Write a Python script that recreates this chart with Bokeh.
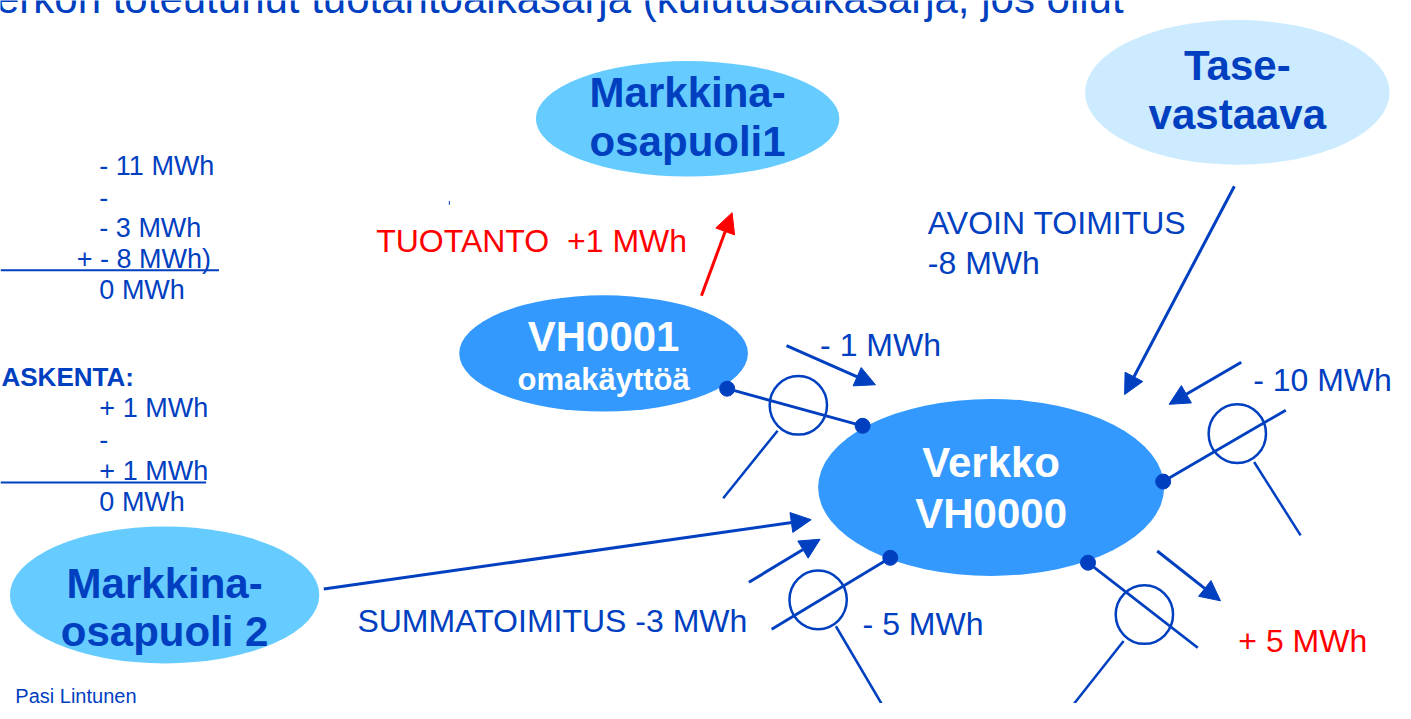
from bokeh.plotting import figure
from bokeh.models import Range1d, Arrow, NormalHead
from bokeh.core.properties import value
from bokeh.embed import file_html
from bokeh.resources import INLINE

# ---------------- data (texts / values) ----------------
title_text = "Verkon toteutunut tuotantoaikasarja (kulutusaikasarja, jos ollut"
node_line1 = ["Markkina-", "Tase-", "VH0001", "Verkko", "Markkina-"]
node_line2 = ["osapuoli1", "vastaava", "omakäyttöä", "VH0000", "osapuoli 2"]
flow_names = ["TUOTANTO", "AVOIN TOIMITUS", "", "", "SUMMATOIMITUS", "", ""]
flow_mwh = [1, -8, -1, -10, -3, -5, 5]
balance1_lines = ["- 11 MWh", "-", "- 3 MWh", "+ - 8 MWh)", "0 MWh"]
balance2_head = "ASKENTA:"
balance2_lines = ["+ 1 MWh", "-", "+ 1 MWh", "0 MWh"]
author = "Pasi Lintunen"

# ---------------- layout / style ----------------
BLUE = "#0040C0"
RED = "#FF0000"
FONT = "Liberation Sans"
NB = "\u00a0"
W, H = 1395, 703

p = figure(width=W, height=H, x_range=Range1d(0, 1411), y_range=Range1d(719, 0),
           output_backend="svg", toolbar_location=None, min_border=0,
           x_axis_location=None, y_axis_location=None)
p.grid.visible = False
p.outline_line_color = None
p.background_fill_color = "white"
p.border_fill_color = "white"

# title (partly cut at the top, as in the original slide)
p.text(x=[1136], y=[-2], text=[title_text], text_font=value(FONT), text_font_size="42px",
       text_color=BLUE, text_align="right", text_baseline="middle")

# node ellipses
node_x = [695, 1251, 610, 1002, 166]
node_y = [121, 94, 361, 498, 608]
node_w = [307, 308, 292, 350, 313]
node_h = [118, 148, 119, 181, 140]
node_fill = ["#66CCFF", "#CCEBFF", "#3399FF", "#3399FF", "#66CCFF"]
p.ellipse(x=node_x, y=node_y, width=node_w, height=node_h, fill_color=node_fill, line_color=None)

node_tcol = [BLUE, BLUE, "white", "white", BLUE]
l1_y = [94, 66, 344, 473, 596]
l2_y = [144, 117, 388, 525, 645]
l1_size = ["42px", "42px", "42px", "42px", "42px"]
l2_size = ["42px", "42px", "31px", "42px", "42px"]
for i in range(5):
    p.text(x=[node_x[i]], y=[l1_y[i]], text=[node_line1[i]], text_font=value(FONT),
           text_font_style="bold", text_font_size=l1_size[i], text_color=node_tcol[i],
           text_align="center", text_baseline="middle")
    p.text(x=[node_x[i]], y=[l2_y[i]], text=[node_line2[i]], text_font=value(FONT),
           text_font_style="bold", text_font_size=l2_size[i], text_color=node_tcol[i],
           text_align="center", text_baseline="middle")

# arrows
def arrow(x0, y0, x1, y1, color, w=3, size=20):
    p.add_layout(Arrow(end=NormalHead(size=size, fill_color=color, line_color=color),
                       x_start=x0, y_start=y0, x_end=x1, y_end=y1,
                       line_color=color, line_width=w))

arrow(709, 302, 740, 217, RED)            # production to Markkina-osapuoli1
arrow(1248, 190, 1137, 403, BLUE)         # Tase-vastaava -> Verkko
arrow(795, 353, 885, 393, BLUE)           # - 1 MWh
arrow(1255, 370, 1182, 413, BLUE)         # - 10 MWh
arrow(327, 602, 820, 531, BLUE)           # summatoimitus
arrow(757, 595, 829, 551, BLUE)           # - 5 MWh
arrow(1170, 563, 1234, 614, BLUE)         # + 5 MWh

# connection lines (node -> meter line)
conn_x0 = [735, 1176, 900, 1100]
conn_y0 = [397, 492, 570, 575]
conn_x1 = [872, 1300, 780, 1211]
conn_y1 = [435, 419, 643, 662]
p.segment(x0=conn_x0, y0=conn_y0, x1=conn_x1, y1=conn_y1, line_color=BLUE, line_width=2.8)

# meter circles
met_x = [807, 1251, 827, 1157]
met_y = [414, 443, 613, 628]
p.ellipse(x=met_x, y=met_y, width=58, height=60, fill_color=None, line_color=BLUE, line_width=2.5)

# meter tails
tail_x0 = [786, 1268, 845, 1136]
tail_y0 = [440, 472, 640, 655]
tail_x1 = [731, 1315, 891, 1086]
tail_y1 = [509, 547, 719, 719]
p.segment(x0=tail_x0, y0=tail_y0, x1=tail_x1, y1=tail_y1, line_color=BLUE, line_width=2.5)

# dots
dot_x = [735, 872, 1176, 900, 1100]
dot_y = [397, 435, 492, 570, 575]
p.scatter(x=dot_x, y=dot_y, size=15, marker="circle", color=BLUE)

# tiny mark
p.segment(x0=[454], y0=[205], x1=[454], y1=[209], line_color=BLUE, line_width=1)

# flow labels
def mwh(v, spaced=True):
    s = "+" if v > 0 else "-"
    return f"{s} {abs(v)} MWh" if spaced else f"{s}{abs(v)} MWh"

FS = "32px"
p.text(x=[380], y=[246], text=[f"{flow_names[0]} {NB}{mwh(flow_mwh[0], False)}"], text_font=value(FONT),
       text_font_size=FS, text_color=RED, text_baseline="middle")
p.text(x=[938], y=[228], text=[flow_names[1]], text_font=value(FONT),
       text_font_size=FS, text_color=BLUE, text_baseline="middle")
p.text(x=[938], y=[268], text=[mwh(flow_mwh[1], False)], text_font=value(FONT),
       text_font_size=FS, text_color=BLUE, text_baseline="middle")
p.text(x=[829], y=[352], text=[mwh(flow_mwh[2])], text_font=value(FONT),
       text_font_size=FS, text_color=BLUE, text_baseline="middle")
p.text(x=[1267], y=[388], text=[mwh(flow_mwh[3])], text_font=value(FONT),
       text_font_size=FS, text_color=BLUE, text_baseline="middle")
p.text(x=[361], y=[635], text=[f"{flow_names[4]} {mwh(flow_mwh[4], False)}"], text_font=value(FONT),
       text_font_size=FS, text_color=BLUE, text_baseline="middle")
p.text(x=[872], y=[638], text=[mwh(flow_mwh[5])], text_font=value(FONT),
       text_font_size=FS, text_color=BLUE, text_baseline="middle")
p.text(x=[1252], y=[655], text=[mwh(flow_mwh[6])], text_font=value(FONT),
       text_font_size=FS, text_color=RED, text_baseline="middle")

# balance block 1
b1_x = [100, 100, 100, 77, 100]
b1_y = [169, 201, 233, 264, 296]
p.text(x=b1_x, y=b1_y, text=balance1_lines, text_font=value(FONT), text_font_size="27px",
       text_color=BLUE, text_baseline="middle")
p.segment(x0=[0], y0=[276], x1=[221], y1=[276], line_color=BLUE, line_width=2)

# balance block 2
p.text(x=[1], y=[385], text=[balance2_head], text_font=value(FONT), text_font_style="bold",
       text_font_size="26px", text_color=BLUE, text_baseline="middle")
b2_x = [100, 100, 100, 100]
b2_y = [417, 449, 481, 513]
p.text(x=b2_x, y=b2_y, text=balance2_lines, text_font=value(FONT), text_font_size="27px",
       text_color=BLUE, text_baseline="middle")
p.segment(x0=[0], y0=[493], x1=[208], y1=[493], line_color=BLUE, line_width=2)

# author
p.text(x=[15], y=[711], text=[author], text_font=value(FONT), text_font_size="20px",
       text_color=BLUE, text_baseline="middle")

open("out.html", "w").write(file_html(p, INLINE))
